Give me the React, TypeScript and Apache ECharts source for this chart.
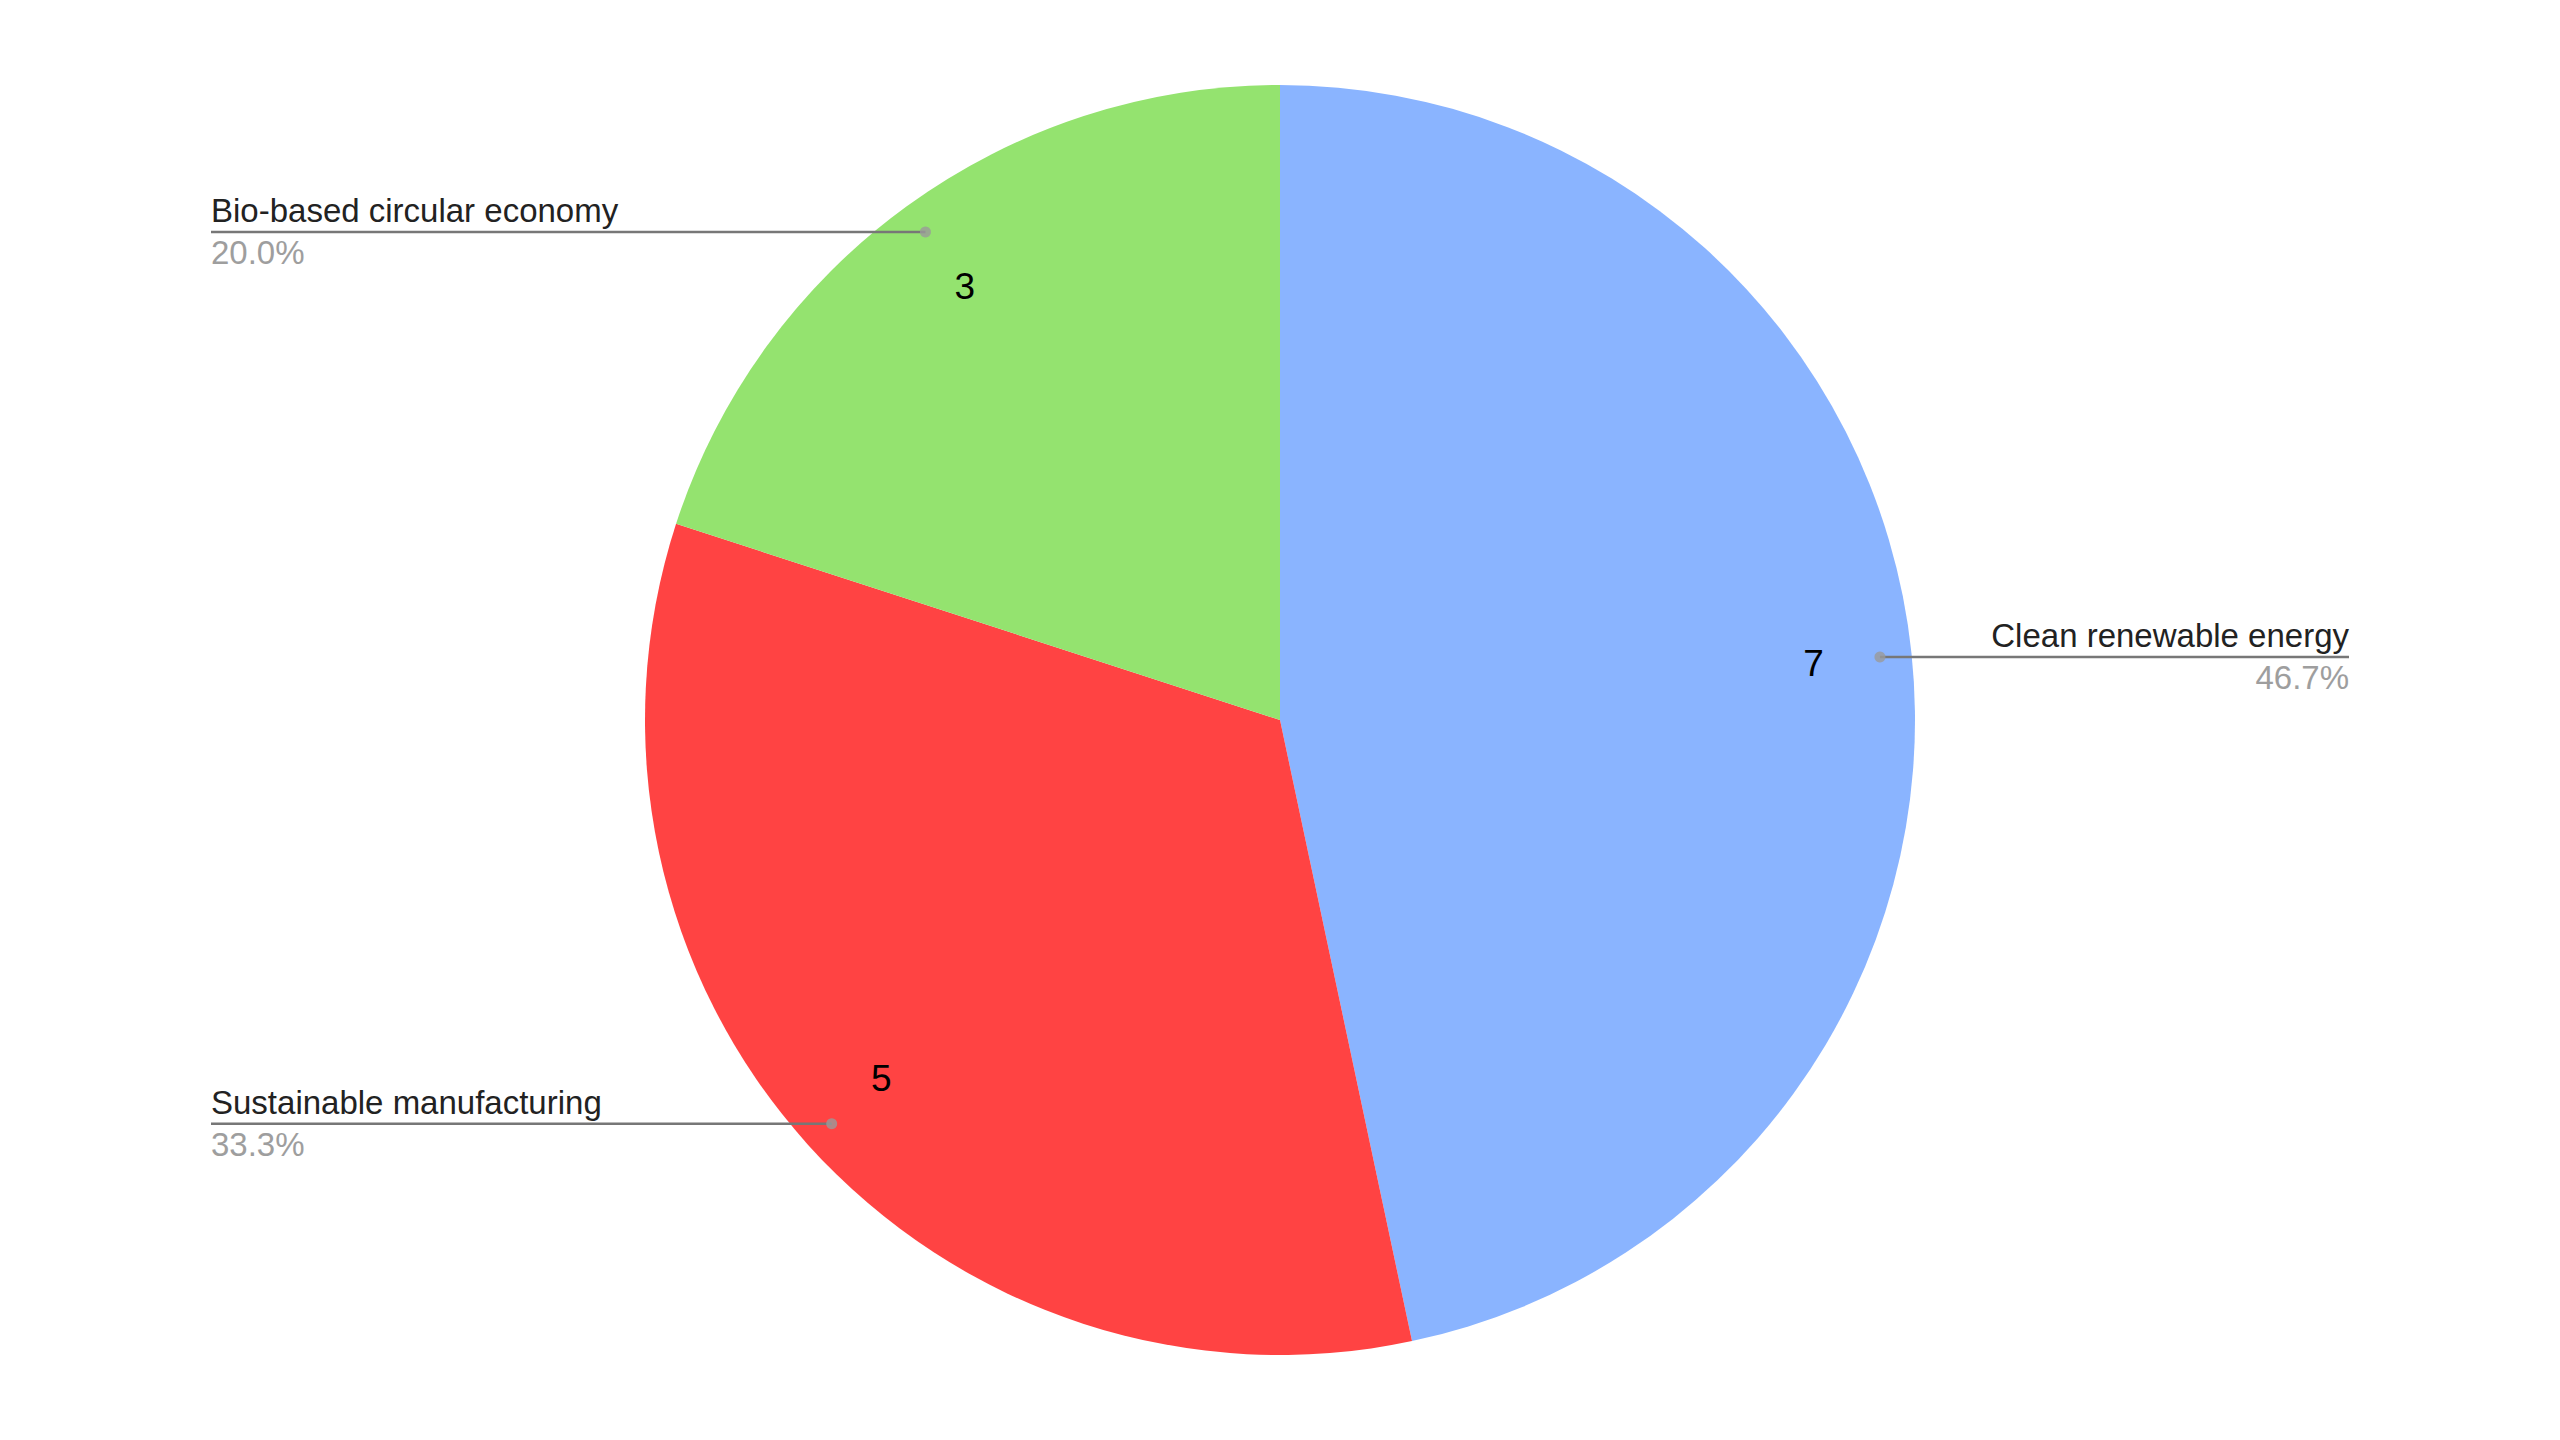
import React, { useEffect, useRef } from "react";
import * as echarts from "echarts";

const categories = ["Clean renewable energy", "Sustainable manufacturing", "Bio-based circular economy"];
const values = [7, 5, 3];
const colors = ["#8AB4FF", "#FF4343", "#94E36F"];

const CX = 1280;
const CY = 720;
const R = 635;
const EDGE = 211;
const FONT = "'Liberation Sans', Arial, sans-serif";

export default function App() {
  const ref = useRef<HTMLDivElement>(null);
  useEffect(() => {
    if (!ref.current) return;
    const chart = echarts.init(ref.current, undefined, { renderer: "svg" });
    const total = values.reduce((a, b) => a + b, 0);
    const mids: number[] = [];
    let acc = 0;
    values.forEach((v) => {
      mids.push(acc + v / 2);
      acc += v;
    });
    const pieData = categories.map((name, i) => ({ name, value: values[i], itemStyle: { color: colors[i] } }));
    const clearData = categories.map((name, i) => ({ name, value: values[i], itemStyle: { color: "rgba(0,0,0,0)" } }));

    chart.setOption({
      animation: false,
      backgroundColor: "#ffffff",
      polar: { center: [CX, CY], radius: R },
      angleAxis: { type: "value", min: 0, max: total, startAngle: 90, clockwise: true, show: false },
      radiusAxis: { type: "value", min: 0, max: 1, show: false },
      series: [
        {
          type: "pie",
          z: 1,
          center: [CX, CY],
          radius: R,
          startAngle: 90,
          clockwise: true,
          silent: true,
          label: { show: false },
          labelLine: { show: false },
          data: pieData,
        },
        {
          type: "pie",
          z: 3,
          center: [CX, CY],
          radius: [R * 0.68, R],
          startAngle: 90,
          clockwise: true,
          silent: true,
          label: {
            show: true,
            position: "inside",
            formatter: "{c}",
            color: "#000000",
            fontSize: 37,
            fontFamily: FONT,
          },
          labelLine: { show: false },
          data: clearData,
        },
        {
          type: "pie",
          z: 4,
          center: [CX, CY],
          radius: R * 0.95,
          startAngle: 90,
          clockwise: true,
          silent: true,
          avoidLabelOverlap: false,
          label: {
            show: true,
            position: "outside",
            alignTo: "edge",
            edgeDistance: EDGE,
            formatter: (p: any) => `{n|${p.name}}\n{p|${p.percent.toFixed(1)}%}`,
            rich: {
              n: { fontSize: 33, fontFamily: FONT, color: "#222222", lineHeight: 40, padding: [0, 0, 2, 0] },
              p: { fontSize: 33, fontFamily: FONT, color: "#9E9E9E", lineHeight: 40, padding: [2, 0, 0, 0] },
            },
          },
          labelLine: {
            show: true,
            length: 0,
            length2: 0,
            smooth: false,
            lineStyle: { color: "#777777", width: 2.5 },
          },
          labelLayout: (params: any) => {
            const pts = params.labelLinePoints;
            if (!pts || !pts.length) return {};
            const p0 = pts[0];
            const isLeft = p0[0] < CX;
            const endX = isLeft ? EDGE : 2560 - EDGE;
            return { labelLinePoints: [p0, [p0[0], p0[1]], [endX, p0[1]]] };
          },
          data: clearData,
        },
        {
          type: "scatter",
          z: 6,
          coordinateSystem: "polar",
          silent: true,
          symbol: "circle",
          symbolSize: 11,
          itemStyle: { color: "#9A9A9A" },
          data: mids.map((m) => [0.95, m]),
        },
      ],
    });
    return () => chart.dispose();
  }, []);
  return <div ref={ref} style={{ position: "fixed", left: 0, top: 0, width: 2560, height: 1440 }} />;
}
